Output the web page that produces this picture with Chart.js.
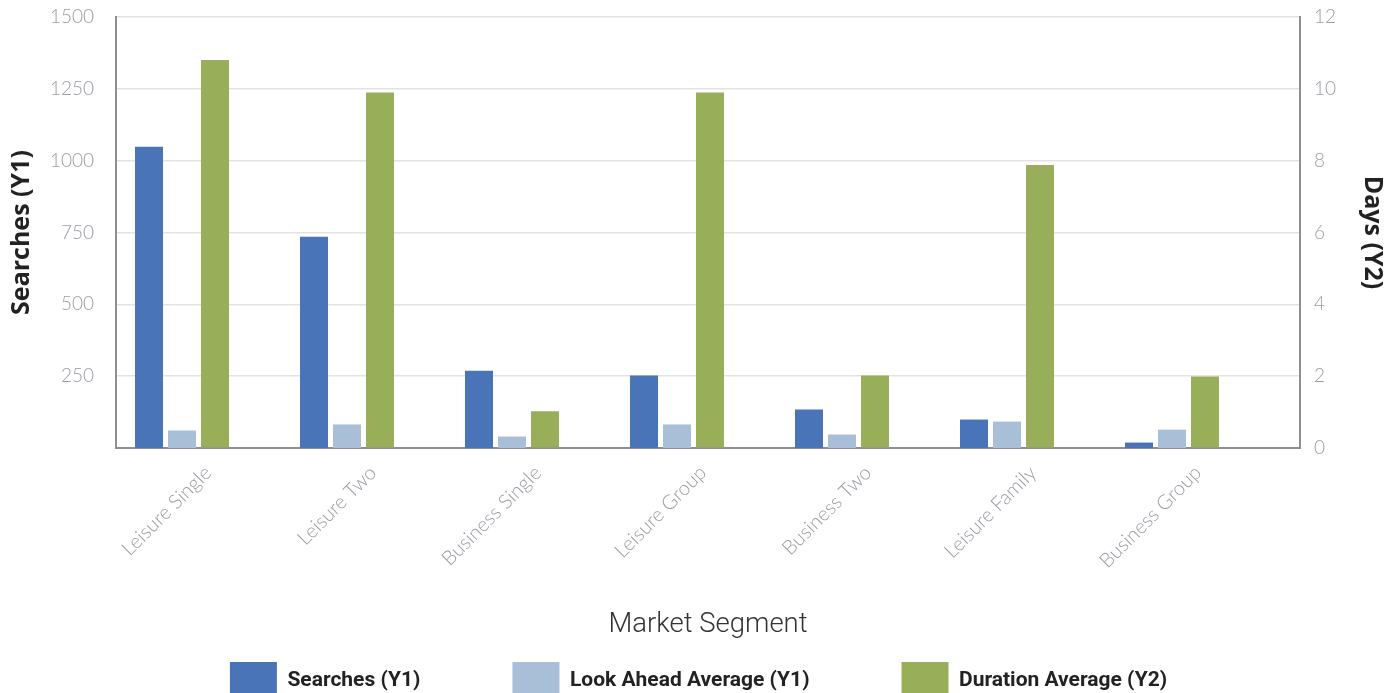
<!DOCTYPE html>
<html>
<head>
<meta charset="utf-8">
<script src="https://cdn.jsdelivr.net/npm/chart.js@4.4.1/dist/chart.umd.min.js"></script>
<style>
  html, body { margin: 0; padding: 0; background: #ffffff; }
  #wrap { width: 1397px; height: 693px; position: relative; }
</style>
</head>
<body>
<div id="wrap"><canvas id="c" width="1397" height="693"></canvas></div>
<script>
// ---- data ----
const categories = ["Leisure Single", "Leisure Two", "Business Single", "Leisure Group", "Business Two", "Leisure Family", "Business Group"];
const searches = [1048, 735, 269, 252, 134, 99, 19];
const lookAhead = [61, 82, 40, 82, 47, 92, 64];
const duration = [10.8, 9.9, 1.02, 9.9, 2.02, 7.88, 1.99];
const y1Ticks = [250, 500, 750, 1000, 1250, 1500];
const y2Ticks = [0, 2, 4, 6, 8, 10, 12];
const seriesNames = ["Searches (Y1)", "Look Ahead Average (Y1)", "Duration Average (Y2)"];
const seriesColors = ["#4a74b8", "#a9bfd7", "#99ae59"];

const toXY = arr => arr.map((v, i) => ({ x: i, y: v }));
const tickGray = "#9b9ba4";
const axisGray = "#8e8e97";
const clear = "rgba(0,0,0,0)";

const ctx = document.getElementById('c').getContext('2d');
new Chart(ctx, {
  type: 'bar',
  data: {
    datasets: [
      { label: seriesNames[0], data: toXY(searches), backgroundColor: seriesColors[0], yAxisID: 'y' },
      { label: seriesNames[1], data: toXY(lookAhead), backgroundColor: seriesColors[1], yAxisID: 'y' },
      { label: seriesNames[2], data: toXY(duration), backgroundColor: seriesColors[2], yAxisID: 'y2' }
    ]
  },
  options: {
    responsive: false,
    animation: false,
    categoryPercentage: 0.6,
    barPercentage: 0.8485,
    layout: { padding: { top: 17, left: 0, right: 0, bottom: 0 } },
    plugins: {
      tooltip: { enabled: false },
      legend: {
        position: 'bottom',
        maxHeight: 123,
        labels: {
          boxWidth: 47,
          boxHeight: 38,
          padding: 92,
          color: '#222222',
          font: { family: 'Roboto', size: 21, weight: 'bold' }
        }
      }
    },
    scales: {
      x: {
        type: 'linear',
        min: -0.4,
        max: 6.7758,
        offset: false,
        afterBuildTicks: s => { s.ticks = categories.map((_, i) => ({ value: i })); },
        afterFit: s => { s.height = 122; },
        grid: { display: false, drawTicks: false },
        border: { display: true, color: axisGray, width: 2 },
        ticks: {
          autoSkip: false,
          minRotation: 45,
          maxRotation: 45,
          padding: 13,
          labelOffset: 26,
          color: tickGray,
          font: { family: 'Lato', size: 20, weight: 300 },
          callback: v => categories[v]
        },
        title: {
          display: true,
          text: 'Market Segment',
          color: '#333333',
          font: { family: 'Roboto', size: 27.5, weight: 300, lineHeight: 1.2 },
          padding: { top: 0, bottom: -71.5 }
        }
      },
      y: {
        position: 'left',
        min: 0,
        max: 1500,
        afterBuildTicks: s => { s.ticks = y1Ticks.map(v => ({ value: v })); },
        afterFit: s => { s.width = 116; },
        grid: { color: '#e3e3e3', lineWidth: 1.5, drawTicks: true, tickLength: 20, tickColor: clear },
        border: { display: true, color: axisGray, width: 2 },
        ticks: {
          padding: 2,
          color: tickGray,
          font: { family: 'Lato', size: 19, weight: 300 },
          callback: v => String(v)
        },
        title: {
          display: true,
          text: 'Searches (Y1)',
          color: '#222222',
          font: { family: 'Open Sans', size: 25, weight: 'bold', lineHeight: 1.2 },
          padding: { top: 7, bottom: 0 }
        }
      },
      y2: {
        position: 'right',
        min: 0,
        max: 12,
        afterBuildTicks: s => { s.ticks = y2Ticks.map(v => ({ value: v })); },
        afterFit: s => { s.width = 97; },
        grid: { display: true, color: clear, drawOnChartArea: false, drawTicks: true, tickLength: 12, tickColor: clear },
        border: { display: true, color: axisGray, width: 2 },
        ticks: {
          padding: 2,
          color: tickGray,
          font: { family: 'Lato', size: 19, weight: 300 },
          callback: v => String(v)
        },
        title: {
          display: true,
          text: 'Days (Y2)',
          color: '#222222',
          font: { family: 'Open Sans', size: 25, weight: 'bold', lineHeight: 1.2 },
          padding: { top: 10, bottom: 0 }
        }
      }
    }
  }
});
</script>
</body>
</html>
